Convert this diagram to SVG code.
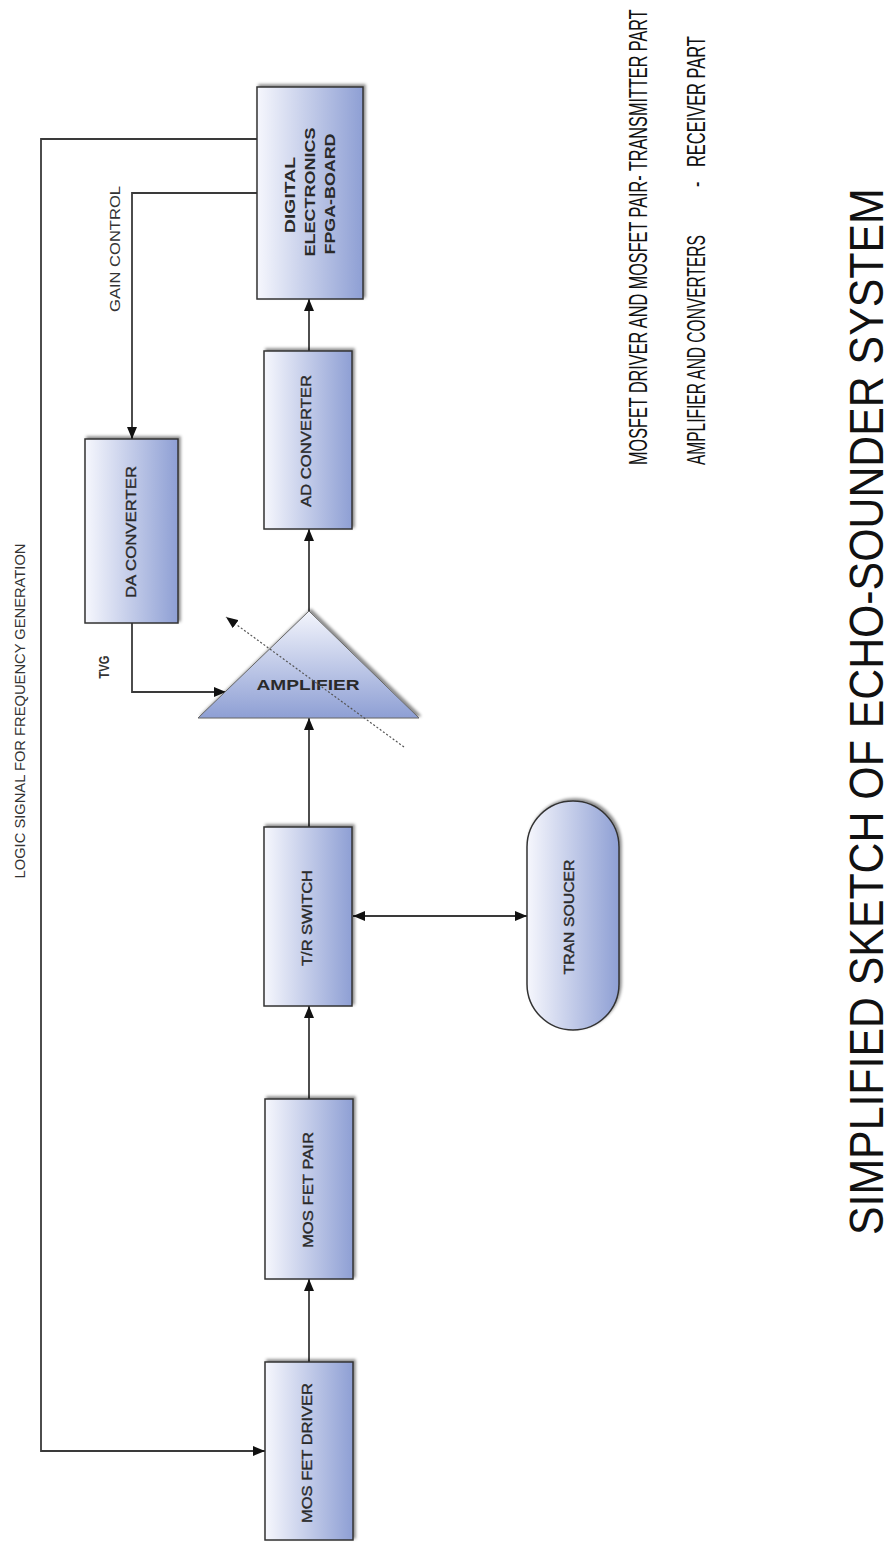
<svg xmlns="http://www.w3.org/2000/svg" width="892" height="1543" viewBox="0 0 892 1543">
<style>
.box{fill:url(#g);stroke:#333;stroke-width:1.5;filter:url(#sh)}
.lbl{font-family:"Liberation Sans",Arial,sans-serif;font-size:14px;fill:#2a2a2a;stroke:#2a2a2a;stroke-width:0.35;text-anchor:middle}
.bld{font-weight:bold;stroke:none}
.side{font-family:"Liberation Sans",Arial,sans-serif;font-size:14px;fill:#333;text-anchor:middle}
.note{font-family:"Liberation Sans",Arial,sans-serif;font-size:26px;fill:#111}
.title{font-family:"Liberation Sans",Arial,sans-serif;font-size:48px;fill:#111}
.conn{fill:none;stroke:#3a3a3a;stroke-width:1.8}
</style>
<defs>
<linearGradient id="g" x1="0" y1="0" x2="1" y2="0">
<stop offset="0" stop-color="#f6f7fd"/>
<stop offset="1" stop-color="#8e9fd4"/>
</linearGradient>
<linearGradient id="gt" x1="0" y1="0" x2="0" y2="1">
<stop offset="0" stop-color="#f3f5fc"/>
<stop offset="1" stop-color="#8e9fd4"/>
</linearGradient>
<filter id="sh" x="-20%" y="-20%" width="140%" height="140%">
<feDropShadow dx="2" dy="-2" stdDeviation="1.8" flood-color="#000" flood-opacity="0.45"/>
</filter>
<marker id="ar" viewBox="0 0 12 10" refX="12" refY="5" markerWidth="12" markerHeight="10" markerUnits="userSpaceOnUse" orient="auto-start-reverse">
<path d="M0,0 L12,5 L0,10 z" fill="#111"/>
</marker>
</defs>
<rect width="892" height="1543" fill="#fff"/>

<g id="connectors">
<path class="conn" d="M309,1362 V1279" marker-end="url(#ar)"/>
<path class="conn" d="M309,1099 V1006" marker-end="url(#ar)"/>
<path class="conn" d="M309,827 V718" marker-end="url(#ar)"/>
<path class="conn" d="M309,611 V529" marker-end="url(#ar)"/>
<path class="conn" d="M309,351 V299" marker-end="url(#ar)"/>
<path class="conn" d="M257,193 H132 V439" marker-end="url(#ar)"/>
<path class="conn" d="M132,623 V692 H226" marker-end="url(#ar)"/>
<path class="conn" d="M257,139 H41 V1451 H265" stroke="#5a5a5a" stroke-width="2" marker-end="url(#ar)"/>
<path class="conn" d="M353,916 H527" marker-start="url(#ar)" marker-end="url(#ar)"/>
</g>

<g id="mosfet-driver">
<rect class="box" x="265" y="1362" width="88" height="178"/>
<text class="lbl" transform="translate(312,1453) rotate(-90)" textLength="140" lengthAdjust="spacingAndGlyphs">MOS FET DRIVER</text>
</g>
<g id="mosfet-pair">
<rect class="box" x="265" y="1099" width="88" height="180"/>
<text class="lbl" transform="translate(313,1190) rotate(-90)" textLength="116" lengthAdjust="spacingAndGlyphs">MOS FET PAIR</text>
</g>
<g id="tr-switch">
<rect class="box" x="264" y="827" width="88" height="179"/>
<text class="lbl" transform="translate(312,918) rotate(-90)" textLength="96" lengthAdjust="spacingAndGlyphs">T/R SWITCH</text>
</g>
<g id="transducer">
<rect class="box" x="527" y="801" width="92" height="229" rx="46" ry="46"/>
<text class="lbl" transform="translate(574,917) rotate(-90)" textLength="115" lengthAdjust="spacingAndGlyphs">TRAN SOUCER</text>
</g>
<g id="amplifier">
<polygon points="309,611 419,718 198,718" fill="url(#gt)" stroke="#666" stroke-width="1" filter="url(#sh)"/>
<text class="lbl bld" x="308" y="690" textLength="103" lengthAdjust="spacingAndGlyphs">AMPLIFIER</text>
<line x1="404" y1="747" x2="226" y2="617" stroke="#555" stroke-width="1.2" stroke-dasharray="2,2" marker-end="url(#ar)"/>
</g>
<g id="ad-converter">
<rect class="box" x="264" y="351" width="88" height="178"/>
<text class="lbl" transform="translate(311,441) rotate(-90)" textLength="132" lengthAdjust="spacingAndGlyphs">AD CONVERTER</text>
</g>
<g id="da-converter">
<rect class="box" x="85" y="439" width="93" height="184"/>
<text class="lbl" transform="translate(136,532) rotate(-90)" textLength="132" lengthAdjust="spacingAndGlyphs">DA CONVERTER</text>
</g>
<g id="digital-electronics">
<rect class="box" x="257" y="87" width="106" height="212"/>
<text class="lbl bld" transform="translate(295,195) rotate(-90)" textLength="76" lengthAdjust="spacingAndGlyphs">DIGITAL</text>
<text class="lbl bld" transform="translate(315,192) rotate(-90)" textLength="129" lengthAdjust="spacingAndGlyphs">ELECTRONICS</text>
<text class="lbl bld" transform="translate(335,194) rotate(-90)" textLength="121" lengthAdjust="spacingAndGlyphs">FPGA-BOARD</text>
</g>

<g id="labels">
<text class="side" transform="translate(120,249) rotate(-90)" textLength="126" lengthAdjust="spacingAndGlyphs">GAIN CONTROL</text>
<text class="side" transform="translate(109,667) rotate(-90)" textLength="23" lengthAdjust="spacingAndGlyphs" font-weight="bold">TVG</text>
<text class="side" transform="translate(25,711) rotate(-90)" textLength="335" lengthAdjust="spacingAndGlyphs">LOGIC SIGNAL FOR FREQUENCY GENERATION</text>
</g>

<g id="legend">
<text class="note" transform="translate(647,465) rotate(-90) scale(0.62,1)" textLength="735" lengthAdjust="spacingAndGlyphs">MOSFET DRIVER AND MOSFET PAIR- TRANSMITTER PART</text>
<text class="note" transform="translate(705,465) rotate(-90) scale(0.6,1)" textLength="383" lengthAdjust="spacingAndGlyphs">AMPLIFIER AND CONVERTERS</text>
<text class="note" transform="translate(705,187) rotate(-90) scale(0.62,1)">-</text>
<text class="note" transform="translate(705,167) rotate(-90) scale(0.62,1)" textLength="211" lengthAdjust="spacingAndGlyphs">RECEIVER PART</text>
<text class="title" transform="translate(883,1235) rotate(-90) scale(0.89,1)" textLength="1176" lengthAdjust="spacingAndGlyphs">SIMPLIFIED SKETCH OF ECHO-SOUNDER SYSTEM</text>
</g>
</svg>
